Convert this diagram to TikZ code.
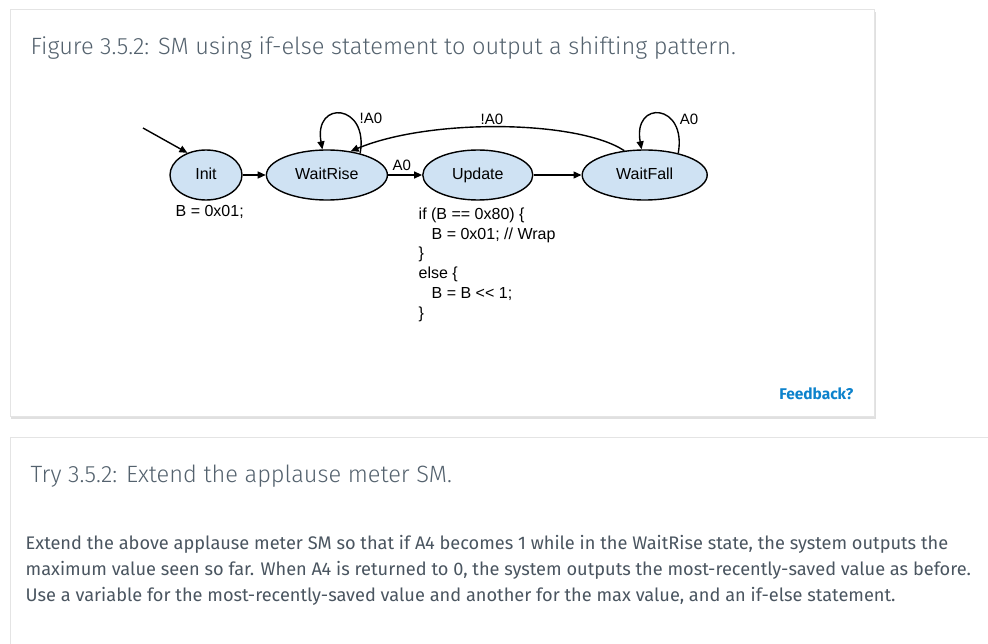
\documentclass[tikz,border=0pt]{standalone}
\usepackage{fontspec}
\usepackage{tikz}
\usetikzlibrary{shapes.geometric,positioning,arrows.meta}
\newfontfamily\diagfont{Liberation Sans}
\newfontfamily\headfont{Fira Sans}[UprightFont={* Light}]
\newfontfamily\bodyfont{Fira Sans}
\definecolor{headgray}{RGB}{84,98,110}
\definecolor{bodygray}{RGB}{74,85,96}
\definecolor{statefill}{RGB}{207,226,243}
\definecolor{linkblue}{RGB}{12,130,204}
\definecolor{cardedge}{RGB}{228,228,228}

\begin{document}
\begin{tikzpicture}[x=1pt,y=-1pt,->,>={Triangle[length=8pt,width=7pt]},line width=1.4pt,
    node distance=23pt,
    state/.style={ellipse,draw,fill=statefill,line width=1.4pt,minimum height=50pt,
      text height=11.5pt,text depth=3pt,font=\diagfont\fontsize{16}{18}\selectfont},
    lbl/.style={font=\diagfont\fontsize{15}{17}\selectfont,inner sep=0pt},
    heading/.style={font=\headfont\fontsize{23.6}{27}\selectfont,text=headgray,anchor=base west,inner sep=0pt},
    bodyline/.style={font=\bodyfont\fontsize{18.2}{21}\selectfont,text=bodygray,anchor=base west,inner sep=0pt}]

  \useasboundingbox (0,0) rectangle (988,644);
  \fill[white] (0,0) rectangle (988,644);

  % cards
  \fill[black!12,-] (11,12) rectangle (876,419);
  \fill[white,draw=cardedge,line width=1pt,-] (10,10) rectangle (874,416);
  \fill[white,draw=cardedge,line width=1pt,-] (10,437) rectangle (1000,660);

  \node[heading] (title) at (30,55) {Figure 3.5.2: SM using if-else statement to output a shifting pattern.};

  % states
  \node[state,minimum width=72pt] (init) at (206,175) {Init};
  \node[state,minimum width=121pt] (wr) [right=of init] {WaitRise};
  \node[state,minimum width=110pt] (up) [right=34pt of wr] {Update};
  \node[state,minimum width=125pt] (wf) [right=48pt of up] {WaitFall};

  \coordinate (start) at (143,128);
  \draw (start) -- (init.130);

  \path (init) edge (wr)
        (wr) edge node[lbl,above=4pt,pos=0.4] (a0) {A0} (up)
        (up) edge (wf);

  \draw (wr.33) .. controls +(9,-50) and +(-9,-50) .. (wr.100);
  \draw (wf.33) .. controls +(9,-50) and +(-9,-50) .. (wf.97);
  \draw (wf.130) .. controls (578,120) and (430,118) .. (wr.45);

  \node[lbl] (nwr) at (371,118) {!A0};
  \node[lbl] (nwf) at (492,119) {!A0};
  \node[lbl] (pwf) at (689,119) {A0};

  % actions
  \node[lbl,anchor=base west,font=\diagfont\fontsize{16}{18}\selectfont] (initact) at (175,217) {B = 0x01;};
  \node[lbl,anchor=north west,align=left,font=\diagfont\fontsize{16}{19.8}\selectfont] (upact) at (418,207)
    {if (B == 0x80) \{\\
     \hspace*{13pt}B = 0x01; // Wrap\\
     \}\\
     else \{\\
     \hspace*{13pt}B = B << 1;\\
     \}};

  \node[font=\bodyfont\bfseries\fontsize{15.5}{18}\selectfont,text=linkblue,anchor=base east,inner sep=0pt] (fb) at (854,399) {Feedback?};

  \node[heading] (try) at (30,482) {Try 3.5.2: Extend the applause meter SM.};
  \node[bodyline] (p1) at (25,549) {Extend the above applause meter SM so that if A4 becomes 1 while in the WaitRise state, the system outputs the};
  \node[bodyline] (p2) at (25,575) {maximum value seen so far. When A4 is returned to 0, the system outputs the most-recently-saved value as before.};
  \node[bodyline] (p3) at (25,601) {Use a variable for the most-recently-saved value and another for the max value, and an if-else statement.};
\end{tikzpicture}
\end{document}
